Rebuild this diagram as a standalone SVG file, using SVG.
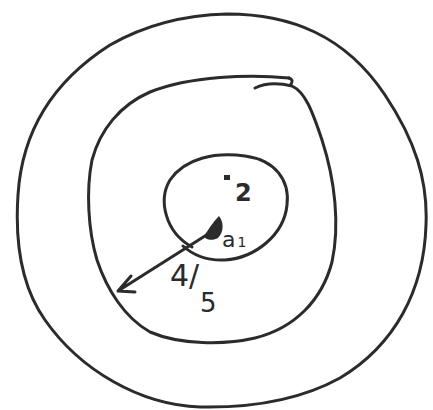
<svg xmlns="http://www.w3.org/2000/svg" width="433" height="410" viewBox="0 0 433 410">
<style>
.s{fill:none;stroke:#2b2b2b;stroke-width:3;stroke-linecap:round;stroke-linejoin:round}
.t{font-family:"DejaVu Sans","Liberation Sans",sans-serif;fill:#2b2b2b}
</style>
<rect width="433" height="410" fill="#fff"/>
<g id="outer">
<path class="s" d="M 227 14 C 290 14, 345 35, 385 95 C 415 140, 428 180, 426 225 C 424 290, 395 345, 340 378 C 300 400, 250 408, 200 407 C 140 405, 80 370, 45 320 C 20 285, 15 240, 18 195 C 22 130, 55 80, 110 45 C 145 25, 185 15, 227 14 Z"/>
</g>
<g id="middle">
<path class="s" d="M 289 78 C 250 74, 190 76, 150 92 C 120 105, 100 130, 92 160 C 86 190, 88 230, 97 260 C 107 290, 125 318, 150 332 C 180 345, 225 345, 255 338 C 295 328, 322 300, 332 262 C 340 225, 335 180, 322 140 C 312 110, 305 92, 292 86 C 276 82, 263 84, 255 88"/>
<path class="s" d="M 289 78 Q 294 80 291 84"/>
</g>
<g id="inner">
<path class="s" d="M 192 247 C 165 232, 158 200, 170 180 C 185 158, 215 152, 245 156 C 275 160, 290 180, 287 205 C 284 235, 255 258, 225 260 C 205 261, 193 255, 183 246"/>
<path d="M 219 216 C 224 222, 224 232, 218 238 C 213 241, 205 240, 204 236 C 208 230, 213 222, 219 216 Z" fill="#2b2b2b"/>
<rect x="224" y="175" width="6" height="5" fill="#2b2b2b"/>
<text class="t" x="235" y="201" font-size="24" font-weight="bold">2</text>
<text class="t" x="222" y="247" font-size="22">a<tspan font-size="14" dx="2">1</tspan></text>
</g>
<g id="connectors">
<path class="s" d="M 216 229 L 118 291 M 118 291 L 131 276 M 118 291 L 135 292"/>
<text class="t" x="170" y="286" font-size="30">4/</text>
<text class="t" x="200" y="312" font-size="26">5</text>
</g>
</svg>
